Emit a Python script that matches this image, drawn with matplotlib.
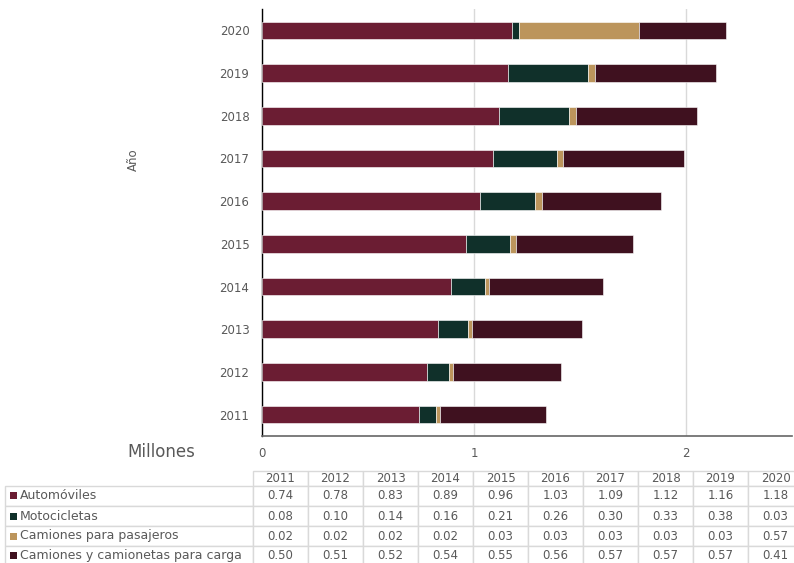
import matplotlib.pyplot as plt
from matplotlib.patches import Rectangle

plt.rcParams['font.family'] = ['DejaVu Sans']

years = [2011, 2012, 2013, 2014, 2015, 2016, 2017, 2018, 2019, 2020]
series_names = ["Automóviles", "Motocicletas", "Camiones para pasajeros",
                "Camiones y camionetas para carga"]
automoviles = [0.74, 0.78, 0.83, 0.89, 0.96, 1.03, 1.09, 1.12, 1.16, 1.18]
motocicletas = [0.08, 0.10, 0.14, 0.16, 0.21, 0.26, 0.30, 0.33, 0.38, 0.03]
camiones_pasajeros = [0.02, 0.02, 0.02, 0.02, 0.03, 0.03, 0.03, 0.03, 0.03, 0.57]
camiones_carga = [0.50, 0.51, 0.52, 0.54, 0.55, 0.56, 0.57, 0.57, 0.57, 0.41]
colors = ["#6b1d33", "#10302a", "#bc955c", "#3f111f"]

series = [automoviles, motocicletas, camiones_pasajeros, camiones_carga]
txt = "#595959"
grid_c = "#d9d9d9"

fig = plt.figure(figsize=(7.94, 5.63), dpi=100)

# main chart
ax = fig.add_axes([262 / 794, 1 - 436 / 563, 530 / 794, 427 / 563])
ypos = list(range(len(years)))
left = [0.0] * len(years)
for vals, c, name in zip(series, colors, series_names):
    ax.barh(ypos, vals, left=left, height=0.41, color=c, edgecolor="white",
            linewidth=0.4, label=name, zorder=3)
    left = [l + v for l, v in zip(left, vals)]

ax.set_xlim(0, 2.5)
ax.set_ylim(-0.5, len(years) - 0.5)
ax.set_xticks([0, 1, 2])
ax.set_xticklabels(["0", "1", "2"])
ax.set_yticks(ypos)
ax.set_yticklabels([str(y) for y in years])
ax.tick_params(axis="both", length=0, labelsize=8.5, labelcolor=txt)
ax.tick_params(axis="x", pad=8)
ax.tick_params(axis="y", pad=9)
ax.xaxis.grid(True, color=grid_c, linewidth=1, zorder=0)
ax.set_axisbelow(True)
for s in ["top", "right"]:
    ax.spines[s].set_visible(False)
ax.spines["left"].set_color("black")
ax.spines["left"].set_linewidth(1)
ax.spines["bottom"].set_color("#666666")
ax.spines["bottom"].set_linewidth(1.2)

fig.text(133 / 794, 1 - 160 / 563, "Año", rotation=90, ha="center", va="center",
         fontsize=8.5, color=txt)
fig.text(161 / 794, 1 - 452 / 563, "Millones", ha="center", va="center",
         fontsize=12, color=txt)

# data table (bbox covers the year columns; row labels hang to the left)
ax_t = fig.add_axes([0, 0, 1, 1])
ax_t.set_xlim(0, 1)
ax_t.set_ylim(0, 1)
ax_t.axis("off")

cell_text = [[f"{v:.2f}" for v in vals] for vals in series]
tb = ax_t.table(cellText=cell_text, rowLabels=series_names,
                colLabels=[str(y) for y in years],
                cellLoc="center", rowLoc="left",
                bbox=[253 / 794, 1 - 566 / 563, 550 / 794, 95 / 563])
tb.auto_set_font_size(False)
for (r, c), cell in tb.get_celld().items():
    cell.set_edgecolor(grid_c)
    cell.set_linewidth(1)
    cell.get_text().set_color(txt)
    cell.get_text().set_fontsize(8.5)
    cell.set_width(242 if c == -1 else 55)
    cell.set_height(15 if r == 0 else 20)
    if c == -1:
        cell.PAD = 14 / 236
        cell.get_text().set_fontsize(9)

# after the first draw, cell sizes are in axes fraction: fix the label column
fig.canvas.draw()
for r in range(1, len(series) + 1):
    tb[(r, -1)].set_width((253 - 16.7) / 794)
fig.canvas.draw()

for i, c in enumerate(colors):
    cell = tb[(i + 1, -1)]
    x0, y0, h = cell.get_x(), cell.get_y(), cell.get_height()
    sq_w = 7 / 794
    sq_h = 7 / 563
    ax_t.add_patch(Rectangle((x0 + 5.3 / 794, y0 + h / 2 - sq_h / 2), sq_w, sq_h,
                             facecolor=c, edgecolor="none", zorder=5))

fig.savefig("out.png", dpi=100)
